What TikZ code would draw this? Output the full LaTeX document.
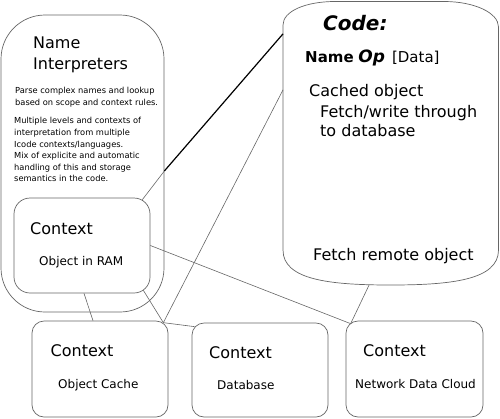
\documentclass[tikz,border=0pt]{standalone}
\usepackage{fontspec}
\setmainfont{DejaVu Sans}
\usepackage{tikz}
\usetikzlibrary{calc}
\tikzset{>=stealth}
\tikzset{
    box/.style={draw=black!60, line width=0.7pt, rounded corners=12pt, inner sep=0pt},
    link/.style={draw=black!60, line width=0.6pt},
    biglink/.style={draw=black, line width=1.2pt},
    title/.style={font=\fontsize{16}{21}\selectfont, anchor=base west, inner sep=0pt},
    label/.style={font=\fontsize{12}{14}\selectfont, anchor=base west, inner sep=0pt},
    note/.style={font=\fontsize{8.3}{11.6}\selectfont, align=left, anchor=north west, inner sep=0pt},
}

\begin{document}
\begin{tikzpicture}[x=1pt, y=-1pt]
    \useasboundingbox (0,0) rectangle (500,418);

    % boxes
    \node[box, rounded corners=44pt, minimum width=163pt, minimum height=297pt] (interp) at (82.5,163.5) {};
    \node[box, rounded corners=16pt, minimum width=136pt, minimum height=95pt] (ram) at (82,245.5) {};
    \node[box, minimum width=136pt, minimum height=96pt] (cache) at (100,369) {};
    \node[box, minimum width=136pt, minimum height=94pt] (db) at (260,370) {};
    \node[box, minimum width=137pt, minimum height=96pt] (net) at (414.5,369) {};

    \node[minimum width=215pt, minimum height=283.5pt, inner sep=0pt] (code) at (390.75,143.25) {};
    \draw[draw=black!60, line width=0.7pt] (283,25) -- (283,250)
        .. controls (283,280) and (330,285) .. (390.75,285)
        .. controls (451,285) and (498.5,280) .. (498.5,250) -- (498.5,27)
        .. controls (498.5,12.6) and (474,1.5) .. (444,1.5) -- (335,1.5)
        .. controls (306,1.5) and (283,11) .. (283,25) -- cycle;

    % texts
    \node[title] (interpname) at (33,48) {Name};
    \node[title] (interpname2) at (33,69) {Interpreters};
    \node[note] (parse) at (15,87) {Parse complex names and lookup\\based on scope and context rules.};
    \node[note] (levels) at (14,117.3) {Multiple levels and contexts of\\interpretation from multiple\\Icode contexts/languages.\\Mix of explicite and automatic\\handling of this and storage\\semantics in the code.};

    \node[title] (ramctx) at (30,234) {Context};
    \node[label] (ramtxt) at (39,265) {Object in RAM};
    \node[title] (cachectx) at (50.5,356.5) {Context};
    \node[label] (cachetxt) at (58,388) {Object Cache};
    \node[title] (dbctx) at (209,358) {Context};
    \node[label] (dbtxt) at (217,389) {Database};
    \node[title] (netctx) at (363,356.5) {Context};
    \node[label] (nettxt) at (355,388) {Network Data Cloud};

    \node[anchor=base west, inner sep=0pt, font=\fontsize{20}{24}\selectfont\bfseries\itshape] (codetitle) at (323,30) {Code:};
    \node[anchor=base west, inner sep=0pt, font=\fontsize{15}{18}\selectfont] (codeop) at (305,62.3)
        {{\bfseries Name} {\fontsize{17}{18}\selectfont\bfseries\itshape Op}\hspace{7pt}[Data]};
    \node[title] (cached) at (309,96.7) {Cached object};
    \node[title] (fetchw) at (320,117.3) {Fetch/write through};
    \node[title] (todb) at (320,136.7) {to database};
    \node[title] (fetchr) at (313,260.7) {Fetch remote object};

    % connectors
    \coordinate (netcorner) at ($(net.north west)+(5,3)$);
    \coordinate (cachecorner) at ($(cache.north east)+(-5,2)$);

    \draw[biglink] ($(code.north west)+(0,32.5)$) -- ($(interp.east)+(0,7.5)$);
    \draw[link] ($(interp.east)+(0,7.5)$) -- ($(ram.north east)+(-8,2)$);
    \draw[link] ($(code.north west)+(0,88.5)$) -- (cachecorner);
    \draw[link] ($(ram.south east)+(-7,-3)$) -- (cachecorner);
    \draw[link] ($(ram.south)+(2,0)$) -- ($(cache.north)+(-7,0)$);
    \draw[link] (cachecorner) -- ($(db.north west)+(3,4)$);
    \draw[link] (ram.east) -- (netcorner);
    \draw[link] ($(code.south)+(-21.75,0)$) -- (netcorner);
\end{tikzpicture}
\end{document}
